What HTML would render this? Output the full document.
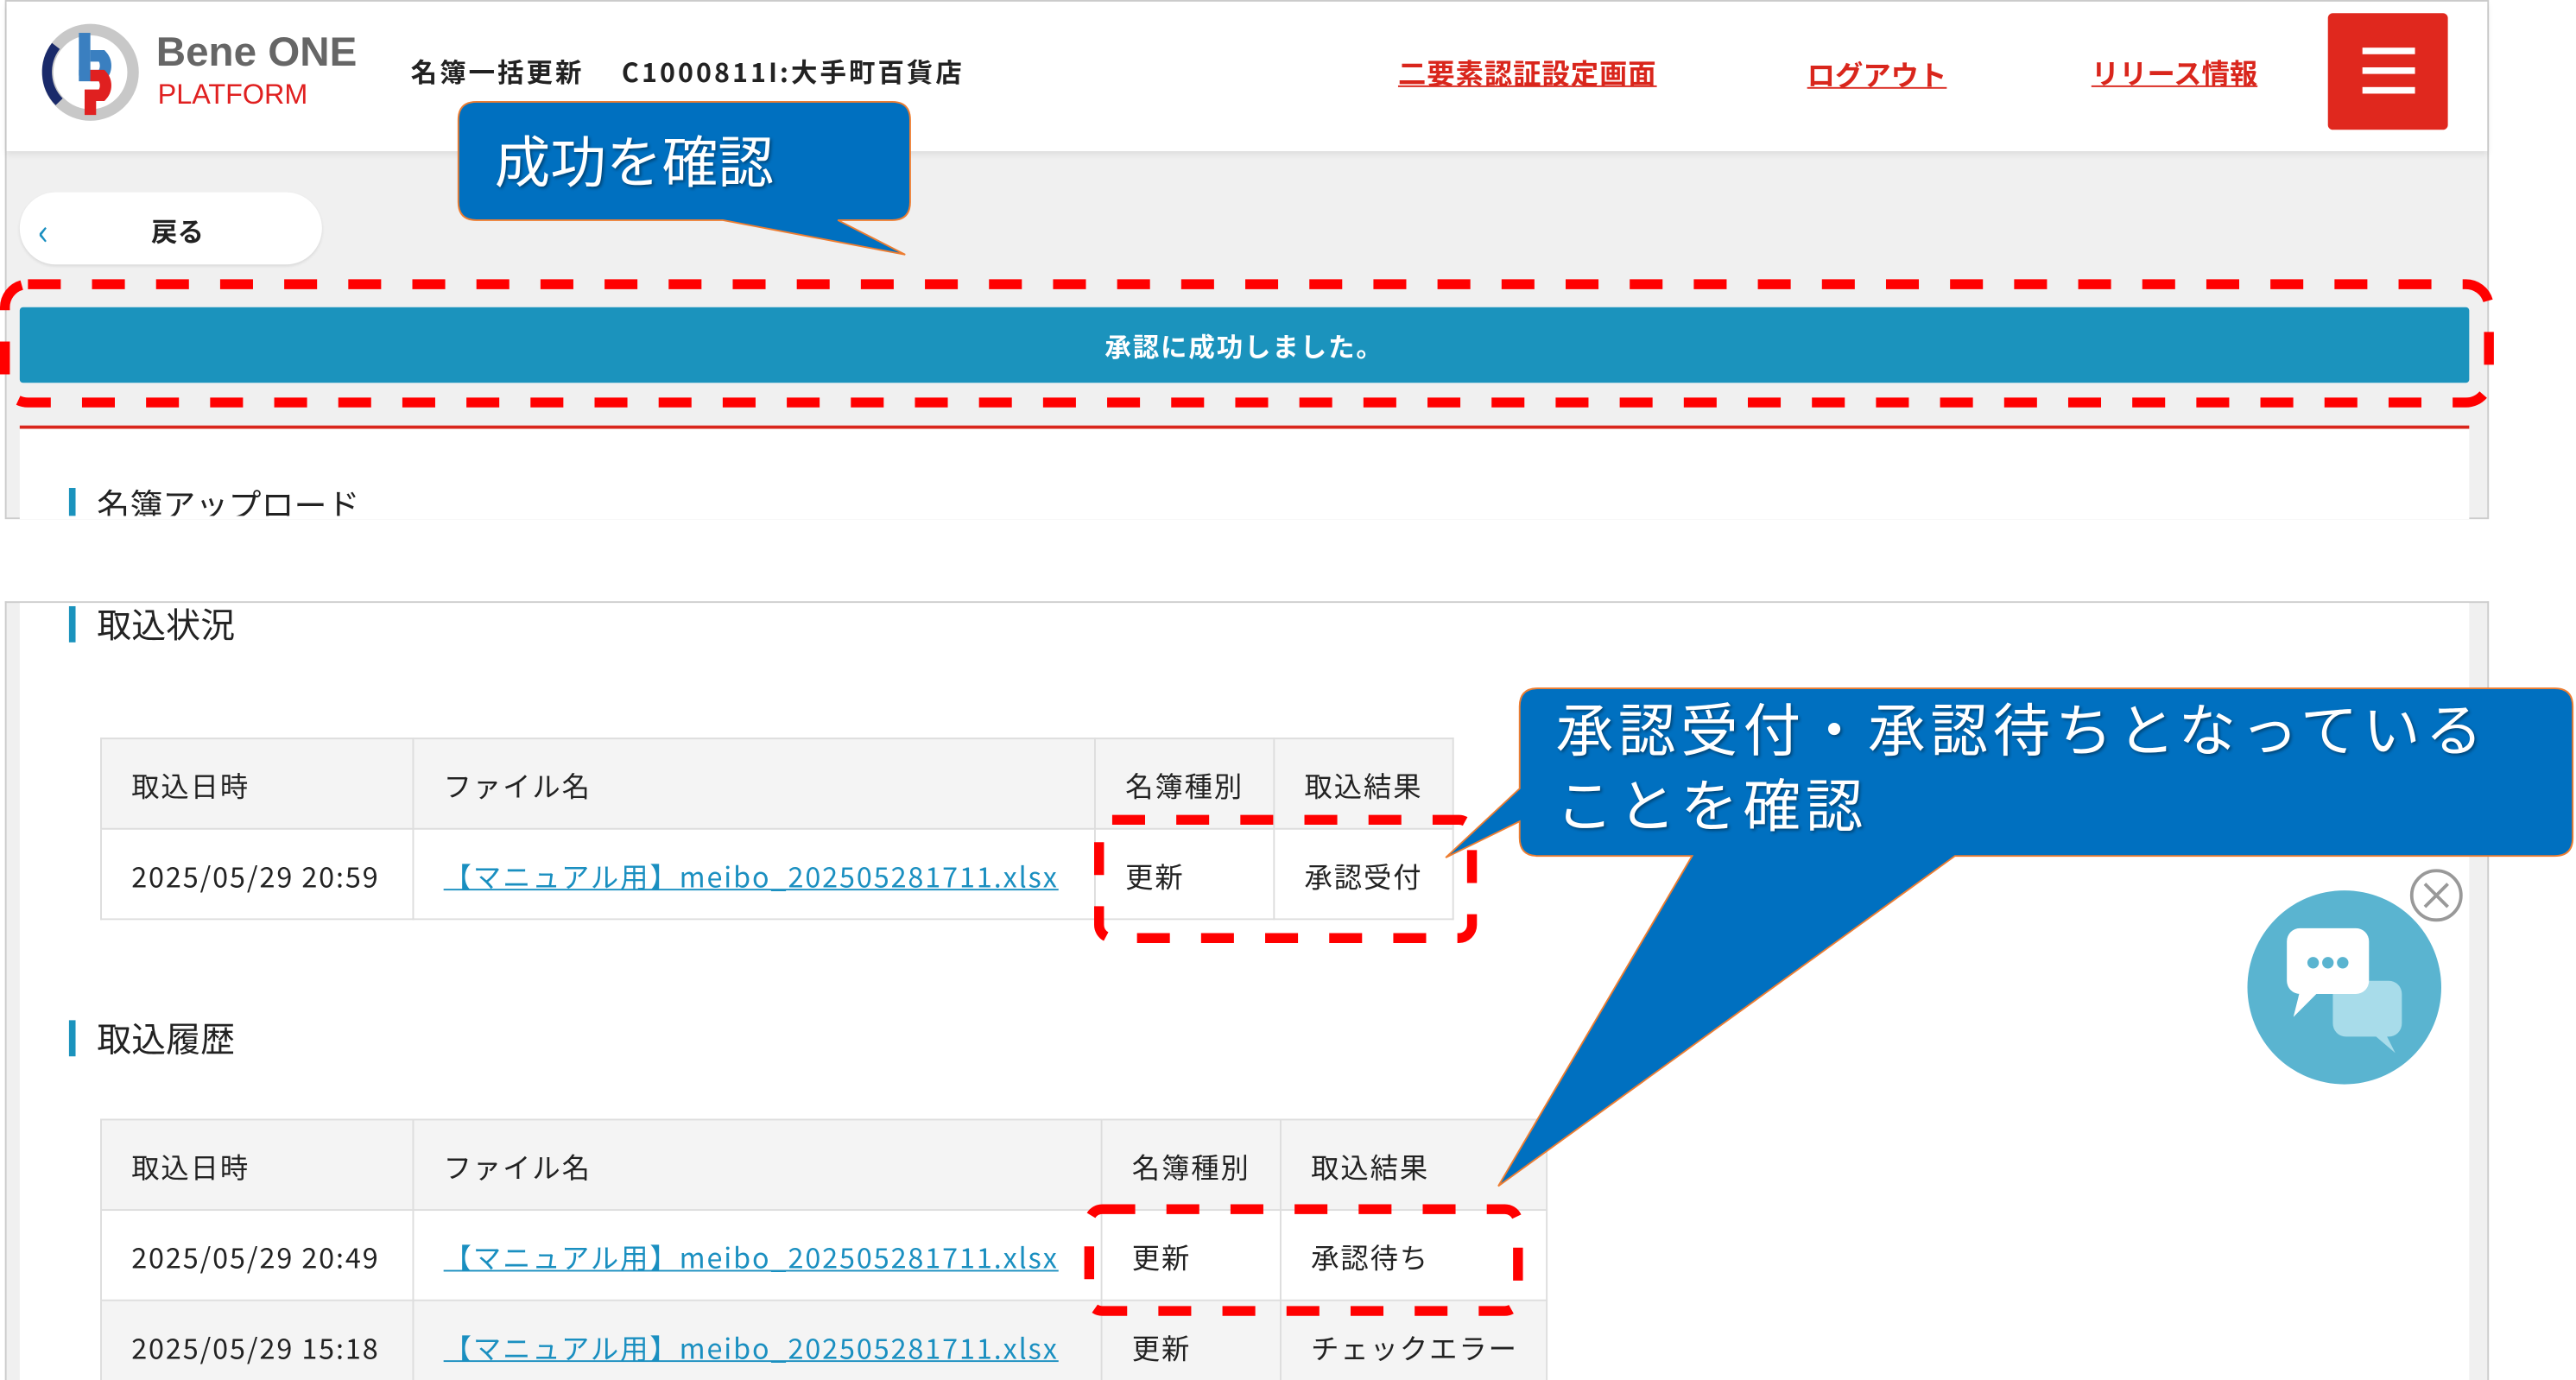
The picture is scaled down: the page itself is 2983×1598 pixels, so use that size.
<!DOCTYPE html>
<html><head><meta charset="utf-8"><style>
html,body{margin:0;padding:0;background:#fff;overflow:hidden}
#w{width:1568px;height:840px;position:relative;transform:scale(1.90242,1.90238);transform-origin:0 0;font-family:"Noto Sans CJK JP","Liberation Sans",sans-serif;color:#222}
.a{position:absolute}
.t{font-size:16px;white-space:nowrap}
.lnk{color:#1a8fc0;text-decoration:underline}
.red{color:#d9261c;text-decoration:underline;font-weight:bold;font-size:17px}
table{border-collapse:collapse;position:absolute;font-size:17px;letter-spacing:1px;table-layout:fixed}
td{border:1px solid #ddd;padding:0 0 0 18px;height:54px;white-space:nowrap;overflow:visible}
tr.h td{background:#f4f4f4}
</style></head><body><div id="w">
<div class="a" style="left:3px;top:0;width:1510px;height:314px;border:1px solid #ccc;background:#f0f0f0"></div>
<div class="a" style="left:4px;top:1px;width:1510px;height:91px;background:#fff;box-shadow:0 2px 4px rgba(0,0,0,.08)"></div>
<svg class="a" style="left:22px;top:12px" width="66" height="64" viewBox="0 0 66 64">
<circle cx="33" cy="32" r="26" fill="none" stroke="#c8c8c8" stroke-width="7"/>
<path d="M12 16 A26 26 0 0 0 14 50" fill="none" stroke="#1a2a6a" stroke-width="6"/>
<rect x="26" y="8" width="7" height="26" fill="#3a7fc0"/>
<path d="M26 34 H40 A9 9 0 0 0 40 22 H33" fill="none" stroke="#3a7fc0" stroke-width="7"/>
<path d="M33 34 H40 A9 9 0 0 1 40 46 H33 V58" fill="none" stroke="#e02020" stroke-width="7"/>
</svg>
<div class="a" style="left:95px;top:18px;font-size:25px;font-weight:bold;color:#666;font-family:'Liberation Sans',sans-serif">Bene ONE</div>
<div class="a" style="left:96px;top:48px;font-size:17px;color:#e02020;font-family:'Liberation Sans',sans-serif">PLATFORM</div>
<div class="a t" style="left:250px;top:31px;font-weight:bold;letter-spacing:1.6px">名簿一括更新　 C1000811I:大手町百貨店</div>
<div class="a red" style="left:851px;top:31px;letter-spacing:0.5px">二要素認証設定画面</div>
<div class="a red" style="left:1100px;top:32px">ログアウト</div>
<div class="a red" style="left:1273px;top:31px">リリース情報</div>
<div class="a" style="left:1417px;top:8px;width:73px;height:71px;background:#e0281e;border-radius:3px"></div>
<div class="a" style="left:1438px;top:29px;width:32px;height:4px;background:#fff;box-shadow:0 12px 0 #fff,0 24px 0 #fff"></div>
<div class="a" style="left:12px;top:117px;width:184px;height:44px;background:#fff;border-radius:22px;box-shadow:0 1px 2px rgba(0,0,0,.1)"></div>
<div class="a" style="left:23px;top:124px;color:#1a8fc0;font-size:22px">‹</div>
<div class="a t" style="left:92px;top:128px;font-weight:bold">戻る</div>
<div class="a" style="left:12px;top:187px;width:1491px;height:46px;background:#1b93bd;border-radius:2px;color:#fff;font-weight:bold;font-size:16px;letter-spacing:1px;text-align:center;line-height:46px">承認に成功しました。</div>
<div class="a" style="left:12px;top:259px;width:1491px;height:55px;background:#fff;border-top:2px solid #d9261c"></div>
<div class="a" style="left:42px;top:297px;width:4px;height:17px;background:#1b93bd"></div>
<div class="a" style="left:59px;top:292px;font-size:20px;height:22px;overflow:hidden">名簿アップロード</div>
<div class="a" style="left:3px;top:366px;width:1510px;height:474px;border:1px solid #ccc;border-bottom:none;background:#f0f0f0"></div>
<div class="a" style="left:12px;top:367px;width:1491px;height:473px;background:#fff"></div>
<div class="a" style="left:42px;top:369px;width:4px;height:22px;background:#1b93bd"></div>
<div class="a" style="left:59px;top:365px;font-size:21px">取込状況</div>
<div class="a" style="left:42px;top:621px;width:4px;height:22px;background:#1b93bd"></div>
<div class="a" style="left:59px;top:617px;font-size:21px">取込履歴</div>
<table style="left:61px;top:449px;width:824px">
<colgroup><col style="width:190px"><col style="width:415px"><col style="width:109px"><col style="width:109px"></colgroup>
<tr class="h"><td>取込日時</td><td>ファイル名</td><td>名簿種別</td><td>取込結果</td></tr>
<tr><td>2025/05/29 20:59</td><td><span class="lnk">【マニュアル用】meibo_202505281711.xlsx</span></td><td>更新</td><td>承認受付</td></tr>
</table>
<table style="left:61px;top:681px;width:881px">
<colgroup><col style="width:190px"><col style="width:419px"><col style="width:109px"><col style="width:162px"></colgroup>
<tr class="h"><td>取込日時</td><td>ファイル名</td><td>名簿種別</td><td>取込結果</td></tr>
<tr><td>2025/05/29 20:49</td><td><span class="lnk">【マニュアル用】meibo_202505281711.xlsx</span></td><td>更新</td><td>承認待ち</td></tr>
<tr class="h"><td>2025/05/29 15:18</td><td><span class="lnk">【マニュアル用】meibo_202505281711.xlsx</span></td><td>更新</td><td>チェックエラー</td></tr>
</table>
<svg class="a" style="left:1360px;top:525px" width="140" height="145">
<circle cx="67" cy="76" r="59" fill="#5ab4d0"/>
<rect x="60" y="72" width="42" height="34" rx="8" fill="#a8dcea"/>
<path d="M92 104 L98 116 L84 104Z" fill="#a8dcea"/>
<rect x="32" y="40" width="50" height="40" rx="8" fill="#fff"/>
<path d="M40 78 L36 94 L52 78Z" fill="#fff"/>
<circle cx="48" cy="61" r="3.5" fill="#5ab4d0"/><circle cx="57" cy="61" r="3.5" fill="#5ab4d0"/><circle cx="66" cy="61" r="3.5" fill="#5ab4d0"/>
<circle cx="123" cy="20" r="15" fill="#fff" stroke="#999" stroke-width="2"/>
<path d="M116 13 L130 27 M130 13 L116 27" stroke="#999" stroke-width="2"/>
</svg>
<svg class="a" style="left:0;top:0" width="1568" height="840">
<g fill="none" stroke="#ff0000" stroke-width="6" stroke-dasharray="20 19">
<rect x="3" y="173" width="1512" height="72" rx="14"/>
<rect x="669" y="499" width="227" height="72" rx="8"/>
<rect x="663" y="736" width="261" height="62" rx="8"/>
</g>
<path d="M290 62 H543 Q554 62 554 73 V123 Q554 134 543 134 H510 L551 155 L440 134 H290 Q279 134 279 123 V73 Q279 62 290 62Z" fill="#0070c0" stroke="#ed7d31" stroke-width="1"/>
<path d="M936 419 H1555 Q1566 419 1566 430 V510 Q1566 521 1555 521 H1190 L912 722 L1030 521 H936 Q925 521 925 510 V500 L880 522 L925 480 V430 Q925 419 936 419Z" fill="#0070c0" stroke="#ed7d31" stroke-width="1"/>
</svg>
<div class="a" style="left:301px;top:72px;color:#fff;font-size:34px;text-shadow:1px 1px 2px rgba(0,0,0,.4)">成功を確認</div>
<div class="a" style="left:947px;top:420px;color:#fff;font-size:35px;letter-spacing:3px;line-height:46px;text-shadow:1px 1px 2px rgba(0,0,0,.4);white-space:nowrap">承認受付・承認待ちとなっている<br>ことを確認</div>
</div></body></html>
